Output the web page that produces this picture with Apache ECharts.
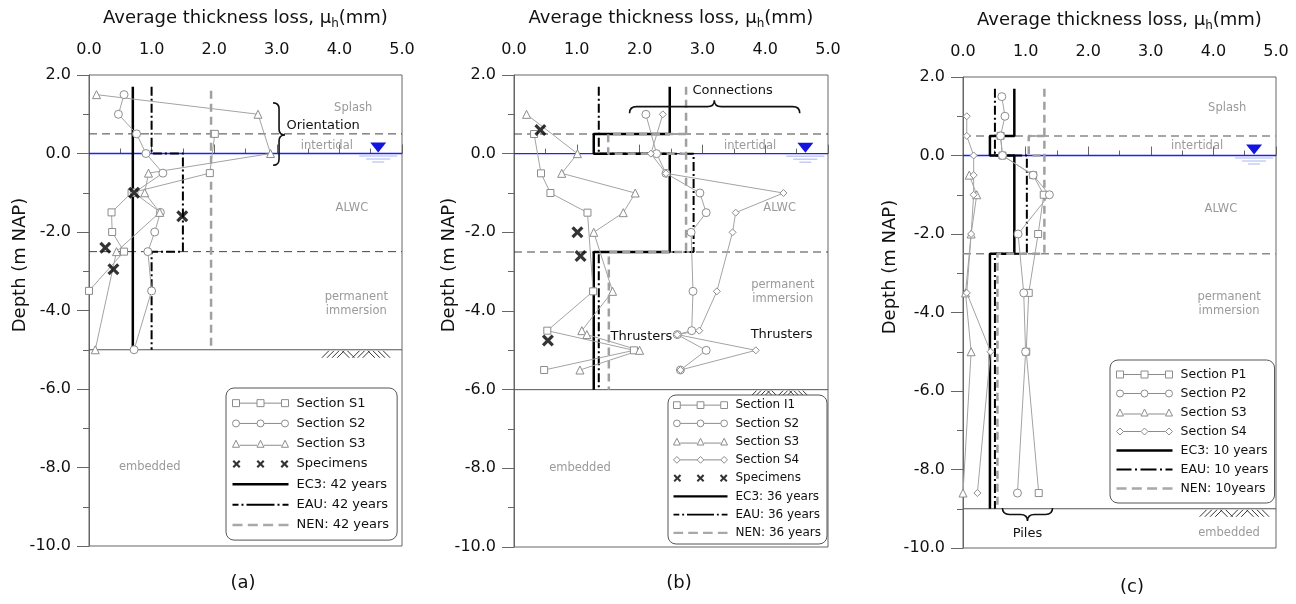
<!DOCTYPE html>
<html><head><meta charset="utf-8">
<script src="https://cdn.jsdelivr.net/npm/echarts@6/dist/echarts.min.js"></script>
<style>html,body{margin:0;padding:0;background:#fff}#c{width:1296px;height:604px}</style>
</head><body><div id="c"></div>
<script>
// ---------- data (thickness loss mm, depth m NAP) ----------
const xTicks = [0, 1, 2, 3, 4, 5];
const yTicks = [2, 0, -2, -4, -6, -8, -10];

// panel (a)
const a_S1 = [[2.01,0.5],[1.93,-0.5],[0.68,-1.0],[0.36,-1.5],[0.37,-2.0],[0.56,-2.5],[0.0,-3.5]];
const a_S2 = [[0.56,1.5],[0.47,1.0],[0.76,0.5],[0.91,0],[1.18,-0.5],[0.72,-1.0],[1.14,-1.5],[1.05,-2.0],[0.94,-2.5],[1.0,-3.5],[0.72,-5.0]];
const a_S3 = [[0.12,1.5],[2.70,1.0],[2.90,0],[0.95,-0.5],[0.89,-1.0],[1.13,-1.5],[0.44,-2.5],[0.10,-5.0]];
const a_spec = [[0.72,-1.0],[1.49,-1.6],[0.26,-2.4],[0.39,-2.95]];
const a_EC3 = [[0.70,1.7],[0.70,-5.0]];
const a_EAU = [[1.0,1.7],[1.0,0],[1.5,0],[1.5,-2.5],[1.0,-2.5],[1.0,-5.0]];
const a_NEN = [[1.95,1.6],[1.95,-5.0]];

// panel (b)
const b_I1 = [[0.32,0.5],[0.43,-0.5],[0.58,-1.0],[1.17,-1.5],[1.26,-3.5],[0.53,-4.5],[1.91,-5.0],[0.48,-5.5]];
const b_S2 = [[2.10,1.0],[2.27,0],[2.42,-0.5],[2.96,-1.0],[3.06,-1.5],[2.82,-2.0],[2.85,-3.5],[2.83,-4.5],[2.60,-4.6],[3.06,-5.0],[2.65,-5.5]];
const b_S3 = [[0.20,1.0],[1.01,0],[0.76,-0.5],[1.93,-1.0],[1.74,-1.5],[1.27,-2.0],[1.57,-3.5],[1.08,-4.5],[1.16,-4.6],[2.0,-5.0],[1.05,-5.5]];
const b_S4 = [[2.37,1.0],[2.18,0],[2.42,-0.5],[4.29,-1.0],[3.53,-1.5],[3.48,-2.0],[3.23,-3.5],[2.95,-4.5],[2.60,-4.6],[3.85,-5.0],[2.65,-5.5]];
const b_spec = [[0.42,0.6],[1.01,-2.0],[1.06,-2.6],[0.54,-4.75]];
const b_EC3 = [[2.48,1.7],[2.48,0.5],[1.27,0.5],[1.27,0],[2.48,0],[2.48,-2.5],[1.27,-2.5],[1.27,-6.0]];
const b_EAU = [[1.35,1.7],[1.35,0],[2.86,0],[2.86,-2.5],[1.35,-2.5],[1.35,-6.0]];
const b_NEN = [[2.74,1.7],[2.74,-2.5],[1.51,-2.5],[1.51,-6.0],'-',[2.74,0.5],[1.50,0.5],[1.50,0],[2.74,0]];

// panel (c)
const c_P1 = [[0.60,0.5],[0.63,0],[1.12,-0.5],[1.29,-1.0],[1.20,-2.0],[1.05,-3.5],[1.01,-5.0],[1.21,-8.6]];
const c_P2 = [[0.62,1.5],[0.67,1.0],[0.60,0.5],[0.63,0],[1.12,-0.5],[1.38,-1.0],[0.88,-2.0],[0.97,-3.5],[1.0,-5.0],[0.87,-8.6]];
const c_S3 = [[0.10,-0.5],[0.22,-1.0],[0.13,-2.0],[0.04,-3.5],[0.13,-5.0],[0.0,-8.6]];
const c_S4 = [[0.06,1.0],[0.06,0.5],[0.17,0],[0.17,-0.5],[0.17,-1.0],[0.13,-2.0],[0.06,-3.5],[0.44,-5.0],[0.23,-8.6]];
const c_EC3 = [[0.82,1.7],[0.82,0.5],[0.43,0.5],[0.43,0],[0.82,0],[0.82,-2.5],[0.43,-2.5],[0.43,-9.0]];
const c_EAU = [[0.51,1.7],[0.51,0],[1.02,0],[1.02,-2.5],[0.51,-2.5],[0.51,-9.0]];
const c_NEN = [[1.30,1.7],[1.30,-2.5],[0.55,-2.5],[0.55,-9.0],'-',[1.30,0.5],[1.05,0.5],[1.05,0],[1.30,0]];

// zone boundaries, waterline, seabed
const zonesA = [0.5, -2.5], seabedA = -5.0;
const zonesB = [0.5, -2.5], seabedB = -6.0;
const zonesC = [0.5, -2.5], seabedC = -9.0;
const waterLevel = 0;

// annotations [text, x, depth, kind]
const notesA = [['Splash',4.22,1.16,'zone'],['Orientation',3.74,0.70,'tag'],['intertidal',3.80,0.19,'zone'],['ALWC',4.20,-1.39,'zone'],['permanent\nimmersion',4.27,-3.84,'zone'],['embedded',0.97,-8.0,'zone']];
const notesB = [['Connections',3.48,1.6,'tag'],['intertidal',3.76,0.2,'zone'],['ALWC',4.23,-1.39,'zone'],['permanent\nimmersion',4.28,-3.52,'zone'],['Thrusters',2.03,-4.64,'tag'],['Thrusters',4.26,-4.6,'tag'],['embedded',1.05,-8.0,'zone']];
const notesC = [['Splash',4.22,1.21,'zone'],['intertidal',3.74,0.24,'zone'],['ALWC',4.12,-1.36,'zone'],['permanent\nimmersion',4.25,-3.79,'zone'],['embedded',4.25,-9.63,'zone'],['Piles',1.03,-9.64,'tag']];
const waterA = [4.62, 0], waterB = [4.64, 0], waterC = [4.65, 0];
const hatchA = [3.72, 4.81, -5.0], hatchB = [3.75, 4.71, -6.0], hatchC = [3.78, 4.89, -9.0];
const braceA = [2.94, 1.29, -0.30, 0.47];   // x, top, bottom, tip depth (points right)
const braceB = [1.84, 4.55, 1.03, 3.19];    // left, right, depth, tip x (points up)
const braceC = [0.63, 1.43, -8.98, 1.03];   // left, right, depth, tip x (points down)

// ---------- chart ----------
const F = 'DejaVu Sans, Verdana, sans-serif';
const grids = [
  {left: 89, top: 75, width: 313, height: 471},
  {left: 514, top: 75, width: 314, height: 472},
  {left: 963, top: 77, width: 313, height: 471}
];

function xAxisCfg(gi) {
  return {gridIndex: gi, type: 'value', position: 'top', min: xTicks[0], max: xTicks[xTicks.length-1], interval: xTicks[1]-xTicks[0],
    name: 'Average thickness loss, μ{s|h}(mm)', nameLocation: 'middle', nameGap: 45,
    nameTextStyle: {fontFamily: F, fontSize: 18, color: '#111', lineHeight: 24,
      rich: {s: {fontFamily: F, fontSize: 12, color: '#111', lineHeight: 24, verticalAlign: 'bottom', padding: [8,0,0,0]}}},
    axisLine: {show: true, lineStyle: {color: '#666', width: 1}},
    axisTick: {show: true, length: 9, lineStyle: {color: '#666'}},
    minorTick: {show: true, splitNumber: 2, length: 5, lineStyle: {color: '#666'}},
    axisLabel: {fontFamily: F, fontSize: 16, color: '#111', margin: 17, formatter: v => v.toFixed(1)},
    splitLine: {show: false}, minorSplitLine: {show: false}};
}
function yAxisCfg(gi) {
  return {gridIndex: gi, type: 'value', min: yTicks[yTicks.length-1], max: yTicks[0], interval: yTicks[0]-yTicks[1],
    axisLine: {show: true, lineStyle: {color: '#666', width: 1}},
    axisTick: {show: true, length: 12, lineStyle: {color: '#666'}},
    minorTick: {show: true, splitNumber: 2, length: 6, lineStyle: {color: '#666'}},
    axisLabel: {fontFamily: F, fontSize: 16, color: '#111', margin: 18, formatter: v => v.toFixed(1)},
    splitLine: {show: false}, minorSplitLine: {show: false}};
}

const base = {silent: true, animation: false, emphasis: {disabled: true}};
const markerStyle = {color: '#fff', borderColor: '#8c8c8c', borderWidth: 1};
function sec(name, data, symbol, size, gi) {
  return Object.assign({type: 'line', name, data, xAxisIndex: gi, yAxisIndex: gi, symbol, symbolSize: size,
    showSymbol: true, showAllSymbol: true, itemStyle: markerStyle, lineStyle: {color: '#a3a3a3', width: 1}, z: 4}, base);
}
const X_PTS = [[0,1.9],[1.9,0],[5,3.1],[8.1,0],[10,1.9],[6.9,5],[10,8.1],[8.1,10],[5,6.9],[1.9,10],[0,8.1],[3.1,5]];
const X_SYMBOL = 'path://M' + X_PTS.map(p => p[0] + ',' + p[1]).join('L') + 'Z';
function spec(data, gi) {
  return Object.assign({type: 'scatter', name: 'Specimens', data, xAxisIndex: gi, yAxisIndex: gi,
    symbol: X_SYMBOL, symbolSize: 12, itemStyle: {color: '#000'}, z: 6}, base);
}
const stepStyles = {
  EC3: {color: '#000', width: 2.5, type: 'solid'},
  EAU: {color: '#000', width: 2, type: [9, 3, 2, 3]},
  NEN: {color: '#a0a0a0', width: 2.5, type: [8, 5]}
};
function step(name, kind, data, gi) {
  return Object.assign({type: 'line', name, data, xAxisIndex: gi, yAxisIndex: gi, symbol: 'none', showSymbol: false,
    connectNulls: false, lineStyle: stepStyles[kind], itemStyle: {color: stepStyles[kind].color}, z: 3}, base);
}
function hline(d, lineStyle, gi) {
  return Object.assign({type: 'line', data: [[xTicks[0], d], [xTicks[xTicks.length-1], d]], xAxisIndex: gi, yAxisIndex: gi,
    symbol: 'none', lineStyle, z: 2}, base);
}
function zoneLines(zones, seabed, gi, color, width) {
  const out = zones.map(d => hline(d, {color, width, type: [8, 5]}, gi));
  out.push(hline(waterLevel, {color: '#2020ff', width: 1.4}, gi));
  out.push(hline(seabed, {color: '#555', width: 1}, gi));
  return out;
}
function notesSeries(notes, gi) {
  return Object.assign({type: 'custom', xAxisIndex: gi, yAxisIndex: gi, data: notes.map(n => [n[1], n[2]]), z: 7,
    renderItem: (params, api) => {
      const n = notes[params.dataIndex];
      const p = api.coord([api.value(0), api.value(1)]);
      const zone = n[3] === 'zone';
      return {type: 'text', x: p[0], y: p[1], style: {text: n[0], fill: zone ? '#9a9a9a' : '#111',
        fontFamily: F, fontSize: zone ? 11.5 : 13, lineHeight: 14.5, align: 'center', verticalAlign: 'middle'}};
    }}, base);
}
function decoSeries(gi, water, hatch, brace, braceKind) {
  return Object.assign({type: 'custom', xAxisIndex: gi, yAxisIndex: gi, data: [[0, 0]], z: 7,
    renderItem: (params, api) => {
      const ch = [];
      const w = api.coord(water);
      ch.push({type: 'polygon', shape: {points: [[w[0]-8, w[1]-11], [w[0]+8, w[1]-11], [w[0], w[1]-1]]}, style: {fill: '#1414e0'}});
      [[19, 2.5], [12, 5.5], [6, 8.5]].forEach(r => ch.push({type: 'line', shape: {x1: w[0]-r[0], y1: w[1]+r[1], x2: w[0]+r[0], y2: w[1]+r[1]}, style: {stroke: '#a8b4f0', lineWidth: 1}}));
      const h0 = api.coord([hatch[0], hatch[2]]), h1 = api.coord([hatch[1], hatch[2]]);
      const n = 13, stepW = (h1[0] - h0[0] - 7) / (n - 1);
      const dirs = ['/','/','/','/','\\','\\','/','/','/','\\','\\','\\','\\'];
      for (let i = 0; i < n; i++) {
        const x = h0[0] + i * stepW, y = h0[1];
        const sh = dirs[i] === '/' ? {x1: x, y1: y + 8, x2: x + 7, y2: y + 1} : {x1: x, y1: y + 1, x2: x + 7, y2: y + 8};
        ch.push({type: 'line', shape: sh, style: {stroke: '#333', lineWidth: 1}});
      }
      let d = '';
      if (braceKind === 'right') {
        const t = api.coord([brace[0], brace[1]]), b = api.coord([brace[0], brace[2]]), m = api.coord([brace[0], brace[3]]);
        const x0 = t[0], ww = 6, r = 6, yT = t[1], yB = b[1], yM = m[1];
        d = `M${x0},${yT}Q${x0+ww},${yT} ${x0+ww},${yT+r}L${x0+ww},${yM-r}Q${x0+ww},${yM} ${x0+2*ww},${yM}Q${x0+ww},${yM} ${x0+ww},${yM+r}L${x0+ww},${yB-r}Q${x0+ww},${yB} ${x0},${yB}`;
      } else {
        const s = braceKind === 'up' ? -1 : 1;
        const l = api.coord([brace[0], brace[2]]), rr = api.coord([brace[1], brace[2]]), m = api.coord([brace[3], brace[2]]);
        const y0 = l[1], ww = 6.5 * s, r = 7, xL = l[0], xR = rr[0], xM = m[0];
        d = `M${xL},${y0}Q${xL},${y0+ww} ${xL+r},${y0+ww}L${xM-r},${y0+ww}Q${xM},${y0+ww} ${xM},${y0+2*ww}Q${xM},${y0+ww} ${xM+r},${y0+ww}L${xR-r},${y0+ww}Q${xR},${y0+ww} ${xR},${y0}`;
      }
      ch.push({type: 'path', shape: {pathData: d}, style: {stroke: '#111', lineWidth: 1.6, fill: null}});
      return {type: 'group', children: ch};
    }}, base);
}

// ---------- legend icons ----------
const P_SQ = 'path://M0,0h7v7h-7zM7,3.5H24.5M24.5,0h7v7h-7zM31.5,3.5H49M49,0h7v7h-7z';
const P_CI = 'path://M0,3.5A3.5,3.5,0,1,0,7,3.5A3.5,3.5,0,1,0,0,3.5zM7,3.5H24.5M24.5,3.5A3.5,3.5,0,1,0,31.5,3.5A3.5,3.5,0,1,0,24.5,3.5zM31.5,3.5H49M49,3.5A3.5,3.5,0,1,0,56,3.5A3.5,3.5,0,1,0,49,3.5z';
const P_TR = 'path://M3.5,0L7,7H0zM7,5H24.5M28,0L31.5,7H24.5zM31.5,5H49M52.5,0L56,7H49z';
const P_DI = 'path://M3.5,0L7,3.5L3.5,7L0,3.5zM7,3.5H24.5M28,0L31.5,3.5L28,7L24.5,3.5zM31.5,3.5H49M52.5,0L56,3.5L52.5,7L49,3.5z';
function xShape(ox, s) {
  return 'M' + X_PTS.map(p => (ox + p[0]*s).toFixed(2) + ',' + (p[1]*s).toFixed(2)).join('L') + 'Z';
}
const P_X = 'path://' + [0, 24, 48].map(o => xShape(o, 0.8)).join('');
function rects(segs, t) { return 'path://' + segs.map(s => `M${s[0]},${-t/2}H${s[1]}V${t/2}H${s[0]}Z`).join(''); }
const P_EC3 = rects([[0, 56]], 2.5);
const P_EAU = rects([[0,6],[9,11],[14,42],[45,47],[50,56]], 2);
const P_EAU_C = rects([[0,15],[18.5,20.5],[24,40],[43.5,45.5],[49,56]], 2);
const P_NEN = rects([[0,10],[15.3,25.3],[30.6,40.6],[46,56]], 2.5);
const secIS = {color: '#fff', borderColor: '#8c8c8c', borderWidth: 1};
const L = (name, icon, itemStyle) => ({name, icon, itemStyle});
const blk = {color: '#000', borderWidth: 0}, gry = {color: '#a8a8a8', borderWidth: 0};

function legendCfg(left, top, lh, fs, iw, pad, items) {
  return {orient: 'vertical', left, top, padding: pad, itemGap: 0, itemWidth: iw, itemHeight: 8,
    selectedMode: false, backgroundColor: '#fff', borderColor: '#555', borderWidth: 1, borderRadius: 8,
    textStyle: {fontFamily: F, fontSize: fs, color: '#111', lineHeight: lh, padding: [0, 0, 0, 3]}, data: items, z: 10};
}

const option = {
  animation: false,
  textStyle: {fontFamily: F},
  grid: grids.map(g => Object.assign({show: true, borderColor: '#666', borderWidth: 1, backgroundColor: 'transparent'}, g)),
  xAxis: [0, 1, 2].map(xAxisCfg),
  yAxis: [0, 1, 2].map(yAxisCfg),
  legend: [
    legendCfg(226, 388, 20.3, 13, 56, [5, 8, 5, 6], [
      L('Section S1', P_SQ, secIS), L('Section S2', P_CI, secIS), L('Section S3', P_TR, secIS), L('Specimens', P_X, blk),
      L('EC3: 42 years', P_EC3, blk), L('EAU: 42 years', P_EAU, blk), L('NEN: 42 years', P_NEN, gry)]),
    legendCfg(668, 395, 18.25, 12, 54, [1, 6, 2, 5], [
      L('Section I1', P_SQ, secIS), L('Section S2', P_CI, secIS), L('Section S3', P_TR, secIS), L('Section S4', P_DI, secIS),
      L('Specimens', P_X, blk), L('EC3: 36 years', P_EC3, blk), L('EAU: 36 years', P_EAU, blk), L('NEN: 36 years', P_NEN, gry)]),
    legendCfg(1110, 360, 19, 12.5, 56, [5, 6, 5, 6], [
      L('Section P1', P_SQ, secIS), L('Section P2', P_CI, secIS), L('Section S3', P_TR, secIS), L('Section S4', P_DI, secIS),
      L('EC3: 10 years', P_EC3, blk), L('EAU: 10 years', P_EAU_C, blk), L('NEN: 10years', P_NEN, gry)])
  ],
  graphic: [
    {type: 'text', x: 20, y: 265, rotation: Math.PI / 2, style: {text: 'Depth (m NAP)', fontFamily: F, fontSize: 18, fill: '#111', align: 'center', verticalAlign: 'middle'}},
    {type: 'text', x: 449, y: 265, rotation: Math.PI / 2, style: {text: 'Depth (m NAP)', fontFamily: F, fontSize: 18, fill: '#111', align: 'center', verticalAlign: 'middle'}},
    {type: 'text', x: 890, y: 267, rotation: Math.PI / 2, style: {text: 'Depth (m NAP)', fontFamily: F, fontSize: 18, fill: '#111', align: 'center', verticalAlign: 'middle'}},
    {type: 'text', x: 243, y: 583, style: {text: '(a)', fontFamily: F, fontSize: 18, fill: '#111', align: 'center', verticalAlign: 'middle'}},
    {type: 'text', x: 679, y: 583, style: {text: '(b)', fontFamily: F, fontSize: 18, fill: '#111', align: 'center', verticalAlign: 'middle'}},
    {type: 'text', x: 1132, y: 587, style: {text: '(c)', fontFamily: F, fontSize: 18, fill: '#111', align: 'center', verticalAlign: 'middle'}}
  ],
  series: [].concat(
    zoneLines(zonesA, seabedA, 0, '#444', 1),
    zoneLines(zonesB, seabedB, 1, '#444', 1),
    zoneLines(zonesC, seabedC, 2, '#8a8a8a', 1.5),
    [
      step('EC3: 42 years', 'EC3', a_EC3, 0), step('EAU: 42 years', 'EAU', a_EAU, 0), step('NEN: 42 years', 'NEN', a_NEN, 0),
      sec('Section S1', a_S1, 'rect', 7, 0), sec('Section S2', a_S2, 'circle', 8, 0), sec('Section S3', a_S3, 'triangle', 8, 0),
      spec(a_spec, 0),
      step('EC3: 36 years', 'EC3', b_EC3, 1), step('EAU: 36 years', 'EAU', b_EAU, 1), step('NEN: 36 years', 'NEN', b_NEN, 1),
      sec('Section I1', b_I1, 'rect', 7, 1), sec('Section S2', b_S2, 'circle', 8, 1), sec('Section S3', b_S3, 'triangle', 8, 1),
      sec('Section S4', b_S4, 'diamond', 7, 1), spec(b_spec, 1),
      step('EC3: 10 years', 'EC3', c_EC3, 2), step('EAU: 10 years', 'EAU', c_EAU, 2), step('NEN: 10years', 'NEN', c_NEN, 2),
      sec('Section P1', c_P1, 'rect', 7, 2), sec('Section P2', c_P2, 'circle', 8, 2), sec('Section S3', c_S3, 'triangle', 8, 2),
      sec('Section S4', c_S4, 'diamond', 7, 2),
      notesSeries(notesA, 0), notesSeries(notesB, 1), notesSeries(notesC, 2),
      decoSeries(0, waterA, hatchA, braceA, 'right'),
      decoSeries(1, waterB, hatchB, braceB, 'up'),
      decoSeries(2, waterC, hatchC, braceC, 'down')
    ]
  )
};
const chart = echarts.init(document.getElementById('c'), null, {renderer: 'canvas'});
chart.setOption(option);
</script></body></html>
